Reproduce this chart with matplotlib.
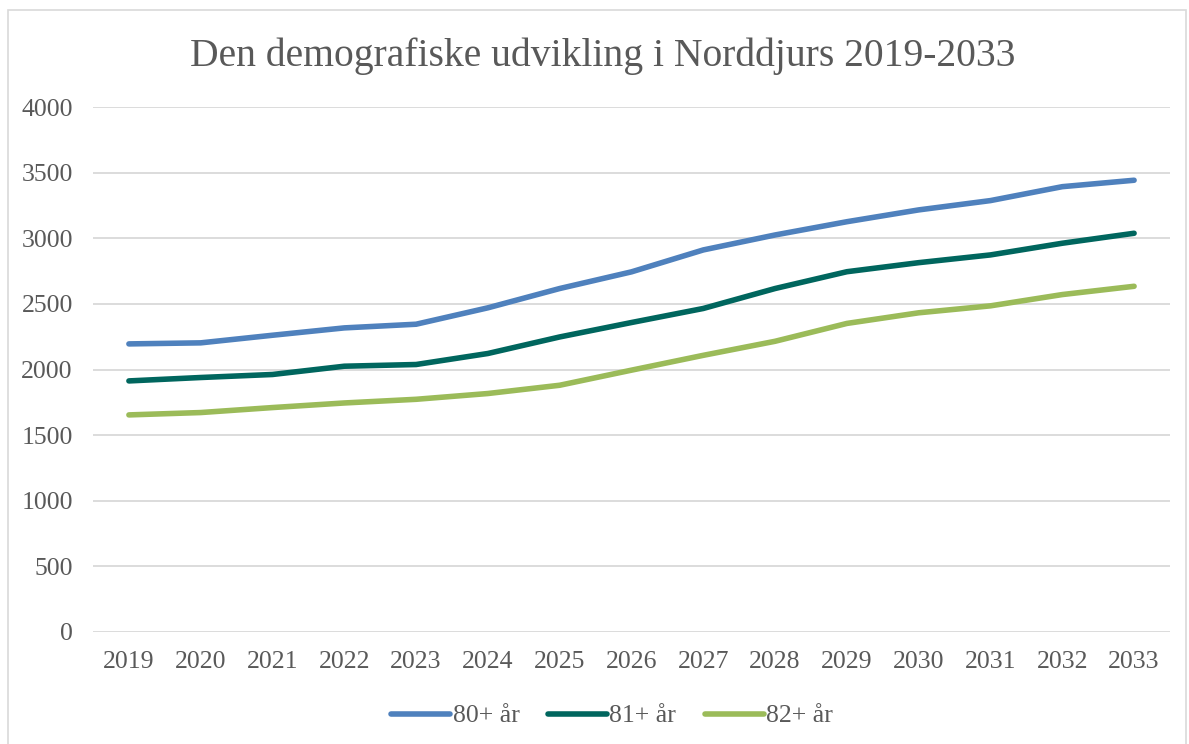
import matplotlib.pyplot as plt
from matplotlib.patches import Rectangle

years = [str(y) for y in range(2019, 2034)]
age80 = [2195, 2203, 2261, 2317, 2345, 2470, 2617, 2744, 2911, 3025,
         3126, 3216, 3287, 3393, 3442]
age81 = [1913, 1939, 1962, 2025, 2038, 2122, 2248, 2358, 2465, 2617,
         2745, 2814, 2873, 2962, 3038]
age82 = [1654, 1672, 1710, 1745, 1773, 1817, 1880, 1995, 2108, 2215,
         2351, 2432, 2485, 2571, 2634]
labels = ["80+ år", "81+ år", "82+ år"]
colors = ["#4F81BD", "#00665E", "#9BBB59"]

plt.rcParams["font.family"] = ["Liberation Serif", "DejaVu Serif"]
text_color = "#595959"

fig = plt.figure(figsize=(11.89, 7.44), dpi=100)
W, H = 1189, 744
ax = fig.add_axes([93 / W, 1 - 632 / H, (1170 - 93) / W, (632 - 107) / H])

# chart frame
fig.patches.append(Rectangle((8 / W, -0.01), (1186 - 8) / W, 1 - 10 / H + 0.01,
                             transform=fig.transFigure, fill=False,
                             edgecolor="#D9D9D9", linewidth=1.2))

x = list(range(len(years)))
for series, lab, col in zip([age80, age81, age82], labels, colors):
    ax.plot(x, series, color=col, linewidth=4.0, label=lab,
            solid_capstyle="round", solid_joinstyle="round")

ax.set_xlim(-0.5, len(years) - 0.5)
ax.set_ylim(0, 4000)
ax.set_yticks(range(0, 4001, 500))
ax.set_xticks(x)
ax.set_xticklabels(years)
ax.grid(axis="y", color="#D9D9D9", linewidth=1.3)
ax.set_axisbelow(True)
for s in ax.spines.values():
    s.set_visible(False)
ax.tick_params(length=0, labelsize=18.5, colors=text_color, pad=13.5)
ax.tick_params(axis="y", pad=14.5)

fig.text(603 / W, 1 - 56 / H, "Den demografiske udvikling i Norddjurs 2019-2033",
         ha="center", va="center", fontsize=28.5, color=text_color)

leg = fig.legend(loc="center", bbox_to_anchor=(612 / W, 1 - 716 / H), ncol=3,
                 frameon=False, fontsize=18.5, handlelength=2.3,
                 handletextpad=0.1, columnspacing=1.1)
for t in leg.get_texts():
    t.set_color(text_color)

fig.savefig("out.png", dpi=100)
